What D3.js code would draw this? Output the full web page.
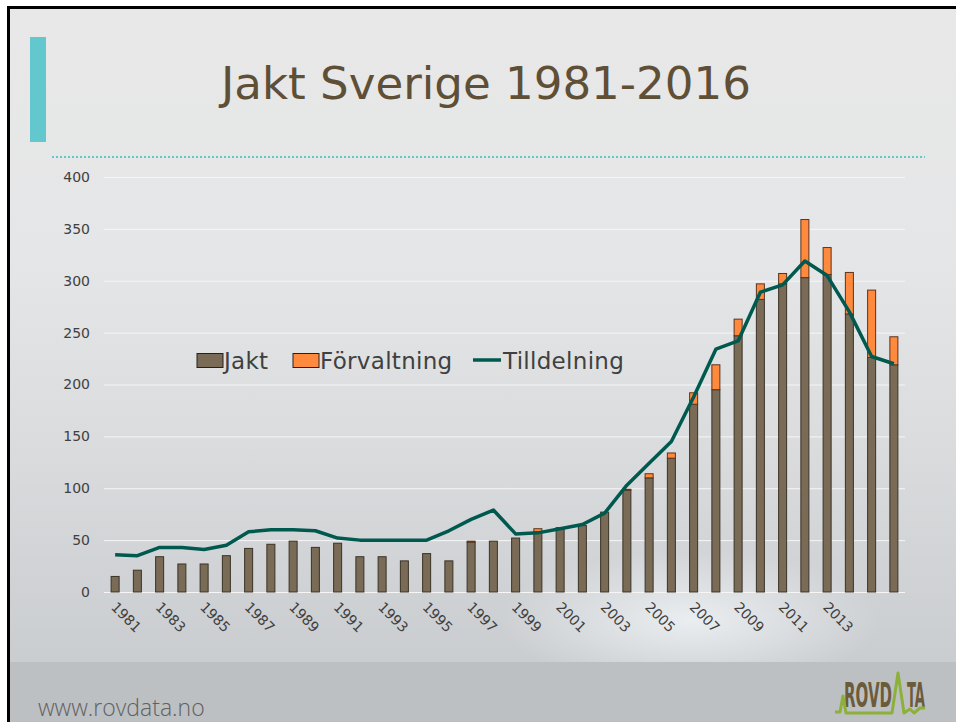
<!DOCTYPE html>
<html>
<head>
<meta charset="utf-8">
<script src="https://cdn.jsdelivr.net/npm/d3@7"></script>
<style>
  html, body { margin: 0; padding: 0; background: #fff; }
  svg { display: block; }
</style>
</head>
<body>
<div id="chart"></div>
<script>
// data
var years = d3.range(1981, 2017);
var jakt = [15, 21, 34, 27, 27, 35, 42, 46, 49, 43, 47, 34, 34, 30, 37, 30, 48, 49, 52, 58,
    62, 64, 77, 98, 110, 129, 181, 195, 247, 282, 297, 303, 306, 268, 226, 219];
var forvaltning = [0, 0, 0, 0, 0, 0, 0, 0, 0, 0, 0, 0, 0, 0, 0, 0, 1, 0, 0, 3,
    0, 0, 0, 1, 4, 5, 11, 24, 16, 15, 10, 56, 26, 40, 65, 27];
var tilldelning = [36, 35, 43, 43, 41, 45, 58, 60, 60, 59, 52, 50, 50, 50, 50, 59, 70, 79, 56, 57,
    61, 65, 76, 103, 124, 145, 188, 234, 242, 289, 296, 319, 305, 270, 227, 220];
var yTicks = [0, 50, 100, 150, 200, 250, 300, 350, 400];
var xTickLabels = ['1981', '1983', '1985', '1987', '1989', '1991', '1993', '1995', '1997',
    '1999', '2001', '2003', '2005', '2007', '2009', '2011', '2013'];
var seriesNames = ['Jakt', 'Förvaltning', 'Tilldelning'];

var W = 956, H = 722;
var colJakt = '#7a6b57', colForv = '#ff8a3d', colLine = '#00594f';

var svg = d3.select('#chart').append('svg')
    .attr('width', W)
    .attr('height', H);

var defs = svg.append('defs');
var bg = defs.append('linearGradient').attr('id', 'bg')
    .attr('x1', 0).attr('y1', 0).attr('x2', 0).attr('y2', 1);
bg.append('stop').attr('offset', '0').attr('stop-color', '#e8e8e8');
bg.append('stop').attr('offset', '0.35').attr('stop-color', '#e5e6e7');
bg.append('stop').attr('offset', '0.6').attr('stop-color', '#dadcde');
bg.append('stop').attr('offset', '1').attr('stop-color', '#c6c9cc');

var glow = defs.append('radialGradient').attr('id', 'glow');
glow.append('stop').attr('offset', '0').attr('stop-color', '#eef1f4').attr('stop-opacity', 0.9);
glow.append('stop').attr('offset', '1').attr('stop-color', '#eef1f4').attr('stop-opacity', 0);

/* slide background */
svg.append('rect').attr('width', W).attr('height', H).attr('fill', '#fff');
svg.append('rect').attr('x', 8).attr('y', 7).attr('width', W - 8).attr('height', H - 7)
    .attr('fill', 'url(#bg)');
svg.append('ellipse').attr('cx', 690).attr('cy', 620).attr('rx', 190).attr('ry', 70)
    .attr('fill', 'url(#glow)');

/* footer band */
svg.append('rect').attr('x', 8).attr('y', 662).attr('width', W - 8).attr('height', H - 662)
    .attr('fill', '#bdc0c3');

/* border on top and left */
svg.append('path').attr('d', 'M8.5,722 V7.5 H956')
    .attr('fill', 'none').attr('stroke', '#000').attr('stroke-width', 3);

/* title block */
svg.append('rect').attr('x', 30).attr('y', 37).attr('width', 16).attr('height', 105)
    .attr('fill', '#62c8cd');
var title = svg.append('text')
    .attr('x', 0).attr('y', 0)
    .attr('font-family', '"DejaVu Sans Condensed", "DejaVu Sans", sans-serif')
    .attr('font-weight', 300)
    .attr('font-size', 45)
    .attr('fill', '#5e4f36')
    .text('Jakt Sverige 1981-2016');
var tw = title.node().getComputedTextLength();
title.attr('transform', 'translate(221,99) scale(' + (530 / tw) + ',1)');

svg.append('line').attr('x1', 52).attr('x2', 925).attr('y1', 157).attr('y2', 157)
    .attr('stroke', '#62c8cd').attr('stroke-width', 2).attr('stroke-dasharray', '2,2');

/* scales */
var x = d3.scaleBand().domain(years).range([104, 905]).paddingInner(0.64).paddingOuter(0.32);
var y = d3.scaleLinear().domain([0, 400]).range([592, 177]);
var cx = function(yr) { return x(yr) + x.bandwidth() / 2; };

/* gridlines */
svg.append('g').selectAll('line').data(yTicks).enter().append('line')
    .attr('x1', 104).attr('x2', 905)
    .attr('y1', function(d) { return y(d) + 0.5; })
    .attr('y2', function(d) { return y(d) + 0.5; })
    .attr('stroke', '#f6f6f6').attr('stroke-width', 1);

/* y axis */
var yAxis = svg.append('g')
    .attr('transform', 'translate(90,0)')
    .call(d3.axisLeft(y).tickValues(yTicks).tickSize(0).tickPadding(0));
yAxis.select('.domain').remove();
yAxis.selectAll('text')
    .attr('font-family', '"DejaVu Sans", Verdana, sans-serif')
    .attr('font-size', 14)
    .attr('fill', '#404040');

/* x axis labels, every other year */
var xAxis = svg.append('g')
    .attr('transform', 'translate(0,592)')
    .call(d3.axisBottom(x).tickValues(xTickLabels.map(Number)).tickSize(0));
xAxis.select('.domain').remove();
xAxis.selectAll('text')
    .attr('font-family', '"DejaVu Sans", Verdana, sans-serif')
    .attr('font-size', 14)
    .attr('fill', '#404040')
    .attr('text-anchor', 'start')
    .attr('dy', null)
    .attr('y', 0)
    .attr('transform', 'translate(-5,16) rotate(45)');

/* stacked bars */
var rows = years.map(function(yr, i) {
    return { year: yr, Jakt: jakt[i], 'Förvaltning': forvaltning[i] };
});
var stack = d3.stack().keys(['Jakt', 'Förvaltning'])(rows);
var fills = [colJakt, colForv];
var strokes = ['#3b3227', '#5a3420'];

svg.append('g').selectAll('g').data(stack).enter().append('g')
    .attr('fill', function(d, i) { return fills[i]; })
    .attr('stroke', function(d, i) { return strokes[i]; })
    .attr('stroke-width', 1)
    .selectAll('rect')
    .data(function(d) { return d.filter(function(p) { return p[1] > p[0]; }); })
    .enter().append('rect')
    .attr('x', function(d) { return x(d.data.year); })
    .attr('width', x.bandwidth())
    .attr('y', function(d) { return y(d[1]); })
    .attr('height', function(d) { return y(d[0]) - y(d[1]); });

/* tilldelning line */
var line = d3.line()
    .x(function(d, i) { return cx(years[i]); })
    .y(function(d) { return y(d); });
svg.append('path')
    .datum(tilldelning)
    .attr('d', line)
    .attr('fill', 'none')
    .attr('stroke', colLine)
    .attr('stroke-width', 3.5)
    .attr('stroke-linejoin', 'round');

/* legend */
var lg = svg.append('g')
    .attr('font-family', '"DejaVu Sans", Verdana, sans-serif')
    .attr('font-size', 23)
    .attr('letter-spacing', 0.3)
    .attr('fill', '#404040');
lg.append('rect').attr('x', 197).attr('y', 353.5).attr('width', 26).attr('height', 14)
    .attr('fill', colJakt).attr('stroke', '#222').attr('stroke-width', 1);
lg.append('text').attr('x', 224).attr('y', 369).text(seriesNames[0]);
lg.append('rect').attr('x', 293).attr('y', 353.5).attr('width', 26).attr('height', 14)
    .attr('fill', colForv).attr('stroke', '#222').attr('stroke-width', 1);
lg.append('text').attr('x', 320).attr('y', 369).text(seriesNames[1]);
lg.append('line').attr('x1', 473).attr('x2', 501).attr('y1', 360).attr('y2', 360)
    .attr('stroke', colLine).attr('stroke-width', 3.5);
lg.append('text').attr('x', 503).attr('y', 369).text(seriesNames[2]);

/* footer text and logo */
svg.append('text')
    .attr('x', 38).attr('y', 716)
    .attr('font-family', '"Open Sans", sans-serif')
    .attr('font-weight', 300)
    .attr('font-size', 23)
    .attr('fill', '#616161')
    .text('www.rovdata.no');

var logo = svg.append('g')
    .attr('font-family', '"Liberation Sans Narrow", "DejaVu Sans Condensed", sans-serif')
    .attr('font-weight', 'bold')
    .attr('font-size', 33)
    .attr('fill', '#6b5b3b');
var rovd = logo.append('text').attr('x', 0).attr('y', 0).text('ROVD');
rovd.attr('transform', 'translate(844,707) scale(' + (48 / rovd.node().getComputedTextLength()) + ',1)');
var ta = logo.append('text').attr('x', 0).attr('y', 0).text('TA');
ta.attr('transform', 'translate(907,707) scale(' + (18 / ta.node().getComputedTextLength()) + ',1)');
logo.append('path')
    .attr('d', 'M835,712 L840,712 L843,696 L846,713 L892,713 L898,673 L904,713 L910,709 L914,713 L920,708 L925,708')
    .attr('fill', 'none')
    .attr('stroke', '#8cb03a')
    .attr('stroke-width', 3)
    .attr('stroke-linejoin', 'round');
</script>
</body>
</html>
